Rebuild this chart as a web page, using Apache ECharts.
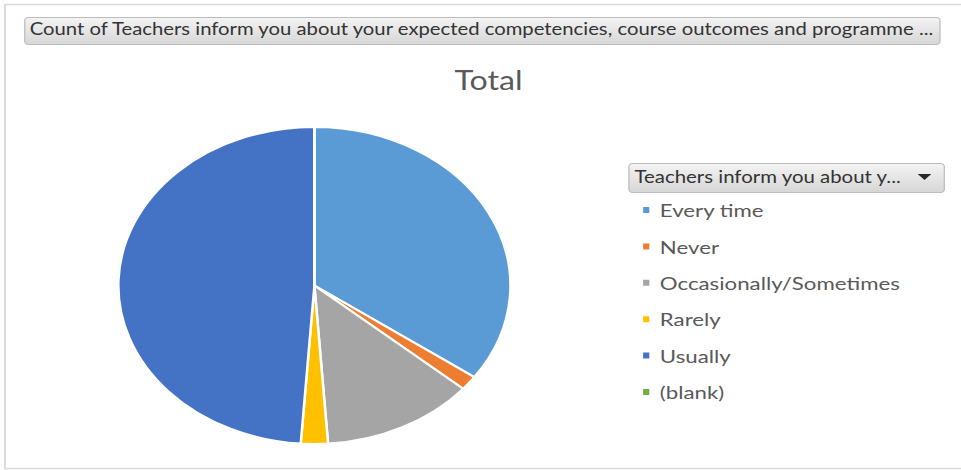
<!DOCTYPE html>
<html>
<head>
<meta charset="utf-8">
<script src="https://cdn.jsdelivr.net/npm/echarts@6/dist/echarts.min.js"></script>
<style>
  html, body { margin: 0; padding: 0; background: #fff; overflow: hidden; }
  /* the reference screenshot is stretched sideways, so the chart is drawn narrow and widened */
  #myChart { width: 777px; height: 470px; transform: scaleX(1.2368); transform-origin: 0 0; }
</style>
</head>
<body>
<div id="myChart"></div>
<script>
// pie data
var categories = ['Every time', 'Never', 'Occasionally/Sometimes', 'Rarely', 'Usually', '(blank)']
var counts = [47, 2, 17, 3, 66, 0]
var colors = ['#5B9BD5', '#ED7D31', '#A5A5A5', '#FFC000', '#4472C4', '#70AD47']

var fieldTitle = 'Count of Teachers inform you about your expected competencies, course outcomes and programme ...'
var legendTitle = 'Teachers inform you about y...'

var pieData = categories.map(function (name, i) {
    return { name: name, value: counts[i], itemStyle: { color: colors[i] } }
})

function btnFill() {
    return new echarts.graphic.LinearGradient(0, 0, 0, 1, [
        { offset: 0, color: '#f4f4f4' },
        { offset: 1, color: '#d6d6d6' }
    ])
}

var myChart = echarts.init(document.getElementById('myChart'), null, { renderer: 'svg' })
myChart.setOption({
    backgroundColor: '#fff',
    animation: false,
    title: {
        text: 'Total',
        left: 390,
        top: 62,
        textAlign: 'center',
        textStyle: { fontFamily: 'Lato', fontSize: 26, fontWeight: 'normal', color: '#595959' }
    },
    legend: {
        orient: 'vertical',
        left: 518,
        top: 200,
        padding: 0,
        icon: 'rect',
        itemWidth: 7,
        itemHeight: 8,
        itemGap: 16.4,
        selectedMode: false,
        data: categories,
        textStyle: { fontFamily: 'Lato', fontSize: 18, color: '#595959', lineHeight: 20, padding: [0, 0, 0, 2.5] }
    },
    graphic: [
        {
            type: 'rect', left: 1.5, top: 2, silent: true,
            shape: { width: 774, height: 464 },
            style: { fill: 'none', stroke: '#d9d9d9', lineWidth: 1.5 }
        },
        {
            type: 'rect', left: 19.5, top: 17,
            shape: { width: 740, height: 27, r: 3 },
            style: { fill: btnFill(), stroke: '#bcbcbc', lineWidth: 1 }
        },
        {
            type: 'text', left: 24, top: 21,
            style: { text: fieldTitle, fontFamily: 'Lato', fontSize: 16.4, fill: '#333333' }
        },
        {
            type: 'rect', left: 508, top: 163,
            shape: { width: 255, height: 29, r: 3 },
            style: { fill: btnFill(), stroke: '#bcbcbc', lineWidth: 1 }
        },
        {
            type: 'text', left: 513, top: 168,
            style: { text: legendTitle, fontFamily: 'Lato', fontSize: 16.5, fill: '#333333' }
        },
        {
            type: 'polygon',
            shape: { points: [[742, 174], [753, 174], [747.5, 180]] },
            style: { fill: '#262626' }
        }
    ],
    series: [
        {
            type: 'pie',
            center: [254.2, 285.5],
            radius: 158.5,
            startAngle: 90,
            clockwise: true,
            label: { show: false },
            labelLine: { show: false },
            emphasis: { disabled: true },
            itemStyle: { borderColor: '#fff', borderWidth: 2 },
            data: pieData
        }
    ]
})
</script>
</body>
</html>
